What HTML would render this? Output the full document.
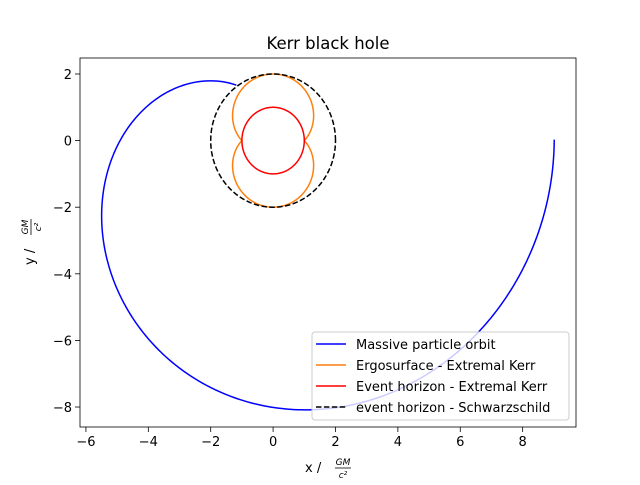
<!DOCTYPE html>
<html><head><meta charset="utf-8"><style>
body{margin:0;background:#fff}
svg text{font-family:"DejaVu Sans","Liberation Sans",sans-serif;fill:#000}
</style></head><body>
<svg id="chart" width="640" height="480" xmlns="http://www.w3.org/2000/svg">
<rect width="640" height="480" fill="#fff"/>
<text x="328" y="49" font-size="16.5" text-anchor="middle">Kerr black hole</text>
<g id="plot"></g>
<g id="axes"></g>
<g>
<text x="305" y="472" font-size="13">x  /</text>
<text x="343" y="465" font-size="9" font-style="italic" text-anchor="middle">GM</text>
<line x1="335" x2="351" y1="468" y2="468" stroke="#000" stroke-width="0.8"/>
<text x="343" y="478" font-size="9" font-style="italic" text-anchor="middle">c²</text>
</g>
<g transform="translate(34,242) rotate(-90)">
<text x="-23" y="0" font-size="13">y  /</text>
<text x="15" y="-6" font-size="9" font-style="italic" text-anchor="middle">GM</text>
<line x1="7" x2="23" y1="-3" y2="-3" stroke="#000" stroke-width="0.8"/>
<text x="15" y="7" font-size="9" font-style="italic" text-anchor="middle">c²</text>
</g>
<g id="legend">
<rect x="312" y="332" width="257" height="88" rx="3" fill="#fff" fill-opacity="0.8" stroke="#ccc"/>
</g>
</svg>
<script>
const orbitX=[8.98,8.77,8.02,6.63,4.50,1.24,-0.68,-2.18,-3.36,-4.21,-4.85,-5.28,-5.47,-5.38,-5.01,-4.26,-3.19,-2.18,-1.16];
const orbitY=[0.03,-2.02,-3.93,-5.72,-7.13,-8.09,-7.89,-7.34,-6.59,-5.79,-4.79,-3.58,-2.08,-1.18,-0.28,0.82,1.57,1.82,1.64];
const horizonKerr=[1];
const horizonSchw=[2];
const spinA=[1];
const xTicks=[-6,-4,-2,0,2,4,6,8];
const yTicks=[2,0,-2,-4,-6,-8];
const legendLabels=["Massive particle orbit","Ergosurface - Extremal Kerr","Event horizon - Extremal Kerr","event horizon - Schwarzschild"];

const L=80,R=576,T=58,B=427;
const xMin=-6.19,xMax=9.71,yMin=-8.6,yMax=2.48;
const sx=v=>L+(v-xMin)/(xMax-xMin)*(R-L);
const sy=v=>B-(v-yMin)/(yMax-yMin)*(B-T);
const NS="http://www.w3.org/2000/svg";
function mk(t,a,p){const e=document.createElementNS(NS,t);for(const k in a)e.setAttribute(k,a[k]);p.appendChild(e);return e;}
const plot=document.getElementById('plot'),axes=document.getElementById('axes');

function polar(fn){let d='';for(let i=0;i<=360;i++){const p=i*Math.PI/180,r=fn(p);d+=(i?'L':'M')+sx(r*Math.cos(p)).toFixed(2)+','+sy(r*Math.sin(p)).toFixed(2);}return d+'Z';}

// smooth orbit: least-squares polynomial r(theta) through the read points
const th=[],rr=[];
orbitX.forEach((x,i)=>{const y=orbitY[i];let a=Math.atan2(y,x);
if(i>0){while(a>th[i-1]+0.01)a-=2*Math.PI;}th.push(a);rr.push(Math.hypot(x,y));});
const deg=5;
function fit(xs,ys){const m=deg+1,A=[];for(let i=0;i<m;i++){A.push(new Array(m+1).fill(0));}
xs.forEach((x,k)=>{for(let i=0;i<m;i++){for(let j=0;j<m;j++)A[i][j]+=Math.pow(x,i+j);A[i][m]+=ys[k]*Math.pow(x,i);}});
for(let i=0;i<m;i++){let p=i;for(let r=i+1;r<m;r++)if(Math.abs(A[r][i])>Math.abs(A[p][i]))p=r;[A[i],A[p]]=[A[p],A[i]];
for(let r=0;r<m;r++){if(r===i)continue;const f=A[r][i]/A[i][i];for(let c=i;c<=m;c++)A[r][c]-=f*A[i][c];}}
return A.map((row,i)=>row[m]/row[i]);}
const coef=fit(th,rr);
const rOf=t=>coef.reduce((s,c,i)=>s+c*Math.pow(t,i),0);
let d='';const N=300,t0=th[0],t1=th[th.length-1];
for(let k=0;k<=N;k++){const t=t0+(t1-t0)*k/N,r=rOf(t);
d+=(k?'L':'M')+sx(r*Math.cos(t)).toFixed(2)+','+sy(r*Math.sin(t)).toFixed(2);}
const orbit=mk('path',{d:d,fill:'none',stroke:'#0000ff','stroke-width':1.5},plot);


const a=spinA[0];
const ergo=mk('path',{d:polar(p=>1+Math.sqrt(1-a*a*Math.cos(p)**2)),fill:'none',stroke:'#ff7f0e','stroke-width':1.5},plot);


const eh=mk('path',{d:polar(p=>horizonKerr[0]),fill:'none',stroke:'#ff0000','stroke-width':1.5},plot);


const sh=mk('path',{d:polar(p=>horizonSchw[0]),fill:'none',stroke:'#000','stroke-width':1.5,'stroke-dasharray':'5.5,2.4'},plot);



const frame=mk('rect',{x:L,y:T,width:R-L,height:B-T,fill:'none',stroke:'#000','stroke-width':0.8},axes);


xTicks.forEach(v=>{const x=sx(v);
mk('line',{x1:x,x2:x,y1:B,y2:B+5,stroke:'#000','stroke-width':0.8},axes);
const t=mk('text',{x:x,y:B+19,'font-size':13,'text-anchor':'middle'},axes);t.textContent=v<0?'−'+(-v):v;

});
yTicks.forEach(v=>{const y=sy(v);
mk('line',{x1:L,x2:L-5,y1:y,y2:y,stroke:'#000','stroke-width':0.8},axes);
const t=mk('text',{x:L-8,y:y+5,'font-size':13,'text-anchor':'end'},axes);t.textContent=v<0?'−'+(-v):v;

});

const lg=document.getElementById('legend');
const cols=['#0000ff','#ff7f0e','#ff0000','#000'];
legendLabels.forEach((s,i)=>{const y=344+i*21;
const g=mk('g',{},lg);


const ln=mk('line',{x1:316,x2:346,y1:y,y2:y,stroke:cols[i],'stroke-width':1.5},g);
if(i==3)ln.setAttribute('stroke-dasharray','5.5,2.4');
const t=mk('text',{x:356,y:y+5,'font-size':13},g);t.textContent=s;});
</script>
</body></html>
